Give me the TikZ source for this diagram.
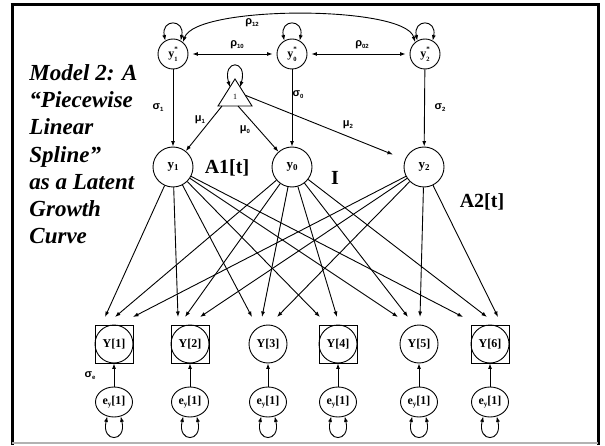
\documentclass[tikz,border=0pt]{standalone}
\usepackage{fontspec}
\setmainfont{Liberation Serif}
\newfontfamily\grkfont{Liberation Sans}
\usetikzlibrary{shapes.geometric,arrows.meta}

% variable labels
\newcommand\starvar[1]{\textbf{y}\rlap{\raisebox{6.5pt}{\fontsize{7}{7}\selectfont\bfseries *}}\raisebox{-3.5pt}{\fontsize{6.5}{6.5}\selectfont\bfseries #1}}
\newcommand\latvar[1]{\textbf{y}\raisebox{-2pt}{\fontsize{9}{9}\selectfont\bfseries #1}}
\newcommand\grk[2]{{\grkfont\bfseries #1}\raisebox{-2pt}{\grkfont\bfseries\fontsize{6}{6}\selectfont #2}}
\newcommand\errvar{\textbf{e}\raisebox{-2pt}{\fontsize{7}{7}\selectfont\bfseries y}\textbf{[1]}}

\begin{document}
\begin{tikzpicture}[x=1pt,y=1pt,line width=0.9pt,
  arr/.style={-{Latex[length=5.5pt,width=4pt]}},
  dbl/.style={{Latex[length=5.5pt,width=4pt]}-{Latex[length=5.5pt,width=4pt]}},
  lat/.style={circle,draw,minimum size=40pt,inner sep=0pt,font=\fontsize{13}{13}\selectfont},
  starc/.style={circle,draw,minimum size=30pt,inner sep=0pt,font=\fontsize{12}{12}\selectfont},
  obs/.style={circle,draw,minimum size=38pt,inner sep=0pt,font=\fontsize{12}{12}\selectfont\bfseries},
  sqbox/.style={rectangle,draw,minimum size=38pt,inner sep=0pt},
  err/.style={ellipse,draw,minimum width=37pt,minimum height=30pt,inner sep=0pt,font=\fontsize{12}{12}\selectfont},
  glab/.style={font=\fontsize{11}{11}\selectfont,inner sep=0pt},
  big/.style={font=\fontsize{20}{20}\selectfont\bfseries,inner sep=0pt}]
\useasboundingbox (0,0) rectangle (605,445);

% frame
\draw[line width=3pt] (10.5,440) -- (599.5,440);
\draw[line width=3pt] (12,441.5) -- (12,0);
\draw[line width=3pt] (598,441.5) -- (598,0);
\draw[gray!60,line width=1.2pt] (12,2) -- (598,2);

% title
\node[anchor=north west,align=left,inner sep=0pt,
  font=\fontsize{23}{27.2}\selectfont\bfseries\itshape] (title) at (29,381)
  {Model 2: A\\“Piecewise\\Linear\\Spline”\\as a Latent\\Growth\\Curve};

% standardized latent components
\node[starc] (y1s) at (173,391) {\starvar{1}};
\node[starc] (y0s) at (292,391) {\starvar{0}};
\node[starc] (y2s) at (425,391) {\starvar{2}};
\foreach \n in {y1s,y0s,y2s}
  \draw[dbl] (\n.120) .. controls +(-4.5,22) and +(4.5,22) .. (\n.60);

% correlations
\draw[dbl] (y1s.50) .. controls (196,440) and (405,440) .. (y2s.130);
\draw[dbl,shorten <=4pt,shorten >=4pt] (y1s) -- (y0s);
\draw[dbl,shorten <=4pt,shorten >=4pt] (y0s) -- (y2s);
\node[glab] (r12) at (252,422) {\grk{ρ}{12}};
\node[glab] (r10) at (237,400) {\grk{ρ}{10}};
\node[glab] (r02) at (362,400) {\grk{ρ}{02}};

% constant
\coordinate (tapex) at (235,366);
\coordinate (tbl) at (218,339);
\coordinate (tbr) at (252,339);
\draw (tapex) -- (tbl) -- (tbr) -- cycle;
\node[font=\fontsize{8}{8}\selectfont,inner sep=0pt] (one) at (235,348) {1};
\coordinate (lpl) at (229.9,357.9);
\coordinate (lpr) at (240.1,357.9);
\draw[dbl] (lpl) .. controls (222,386) and (248,386) .. (lpr);
\coordinate (m1s) at (222,339);
\coordinate (m0s) at (238,339);
\coordinate (m2s) at (245.2,349.8);

% latent components
\node[lat] (y1) at (173,278) {\latvar{1}};
\node[lat] (y0) at (292,278) {\latvar{0}};
\node[lat] (y2) at (424,278) {\latvar{2}};

\draw[arr] (y1s) -- (y1);
\draw[arr] (y0s) -- (y0);
\draw[arr] (y2s) -- (y2);
\node[glab] (s1) at (158,337) {\grk{σ}{1}};
\node[glab] (s0) at (298,350) {\grk{σ}{0}};
\node[glab] (s2) at (440,337) {\grk{σ}{2}};

\draw[arr] (m1s) -- (y1);
\draw[arr] (m0s) -- (y0);
\draw[arr,shorten >=13pt] (m2s) -- (y2);
\node[glab] (mu1) at (200,325) {\grk{μ}{1}};
\node[glab] (mu0) at (245,315) {\grk{μ}{0}};
\node[glab] (mu2) at (348,320) {\grk{μ}{2}};

\node[big] (A1) at (227,277) {A1[t]};
\node[big] (Ilab) at (335,267) {I};
\node[big] (A2) at (482,243) {A2[t]};

% observed scores and errors
\foreach \n/\x in {1/114,2/190,3/268,4/338,5/419,6/490} {
  \node[obs] (Y\n) at (\x,101) {Y[\n]};
  \node[err] (e\n) at (\x,43) {\errvar};
  \draw[arr] (e\n) -- (Y\n);
  \draw[dbl] (e\n.-115) .. controls (\x-13,2) and (\x+13,2) .. (e\n.-65);
}
\foreach \n in {1,2,4,6}
  \node[sqbox] (B\n) at (Y\n) {};
\node[glab] (se) at (90,69) {\grk{σ}{e}};

% loadings
\foreach \src/\tx in {y1/105,y0/115,y2/133,y1/178,y0/185,y2/200,
                      y1/252,y0/262,y2/277,y1/320,y0/337,
                      y1/398,y0/408,y2/420,y1/463,y0/487,y2/498} {
  \coordinate (tip-\src-\tx) at (\tx,128);
  \draw[arr] (\src) -- (tip-\src-\tx);
}
\end{tikzpicture}
\end{document}
